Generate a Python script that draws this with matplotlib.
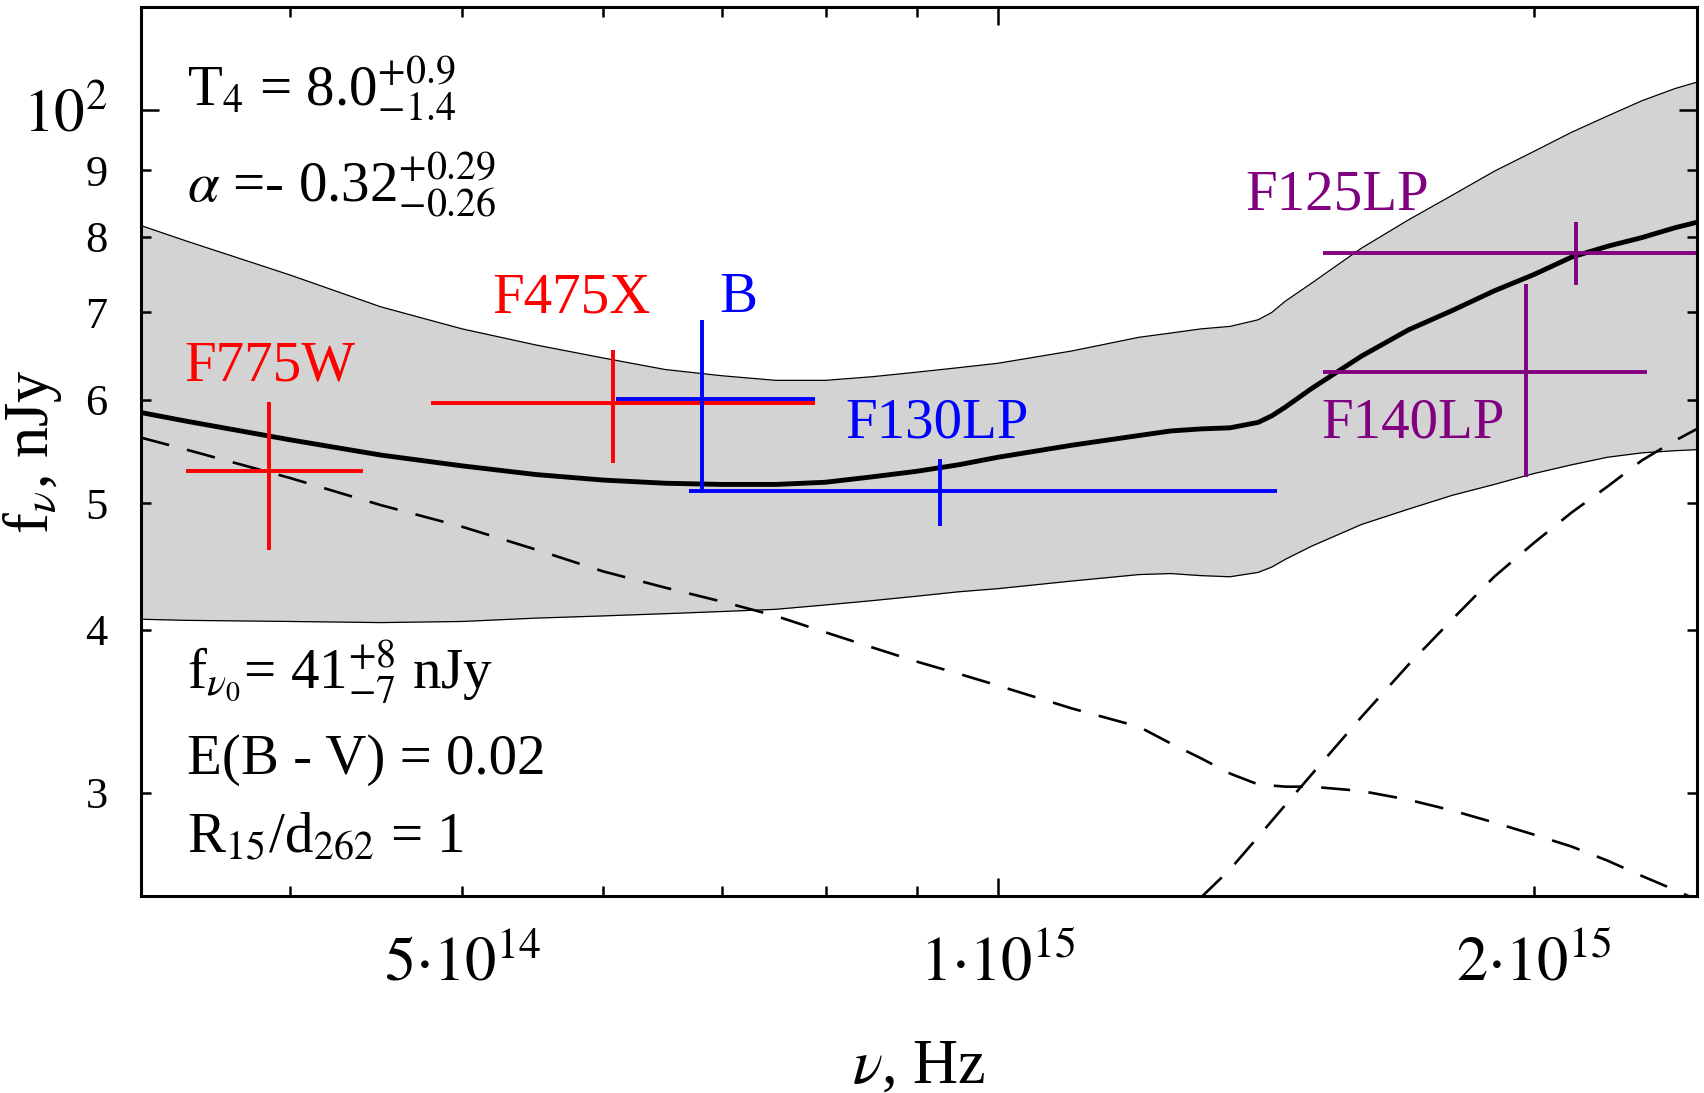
import numpy as np
import matplotlib
matplotlib.use('Agg')
import matplotlib.pyplot as plt
from matplotlib.ticker import FixedLocator, FuncFormatter

plt.rcParams['font.family'] = ['Liberation Serif', 'DejaVu Serif']
plt.rcParams['mathtext.fontset'] = 'stix'

# frequency grid of the model curves (Hz)
nu = np.array([3.3, 3.5, 4.0, 4.5, 5.0, 5.5, 6.0, 6.5, 7.0, 7.5, 8.0, 8.5, 9.0, 9.5,
               10, 11, 12, 12.5, 13, 13.5, 14, 14.25, 14.5, 15,
               16, 17, 18, 19, 20, 21, 22, 23, 24, 24.7]) * 1e14

# grey confidence band (nJy)
band_hi = [8.16, 7.94, 7.48, 7.07, 6.80, 6.61, 6.46, 6.33, 6.26, 6.21, 6.21, 6.25, 6.30, 6.35,
           6.40, 6.54, 6.70, 6.75, 6.80, 6.83, 6.91, 7.00, 7.14, 7.37,
           7.84, 8.24, 8.61, 8.98, 9.30, 9.62, 9.90, 10.17, 10.39, 10.51]
band_lo = [4.074, 4.066, 4.058, 4.050, 4.058, 4.082, 4.098, 4.114, 4.130, 4.146, 4.178, 4.210, 4.243, 4.276,
           4.300, 4.358, 4.408, 4.416, 4.400, 4.391, 4.425, 4.467, 4.528, 4.634,
           4.815, 4.947, 5.070, 5.168, 5.268, 5.350, 5.422, 5.464, 5.485, 5.495]

# best fit model
best = [5.867, 5.778, 5.592, 5.443, 5.340, 5.259, 5.208, 5.179, 5.168, 5.168, 5.188, 5.238, 5.289, 5.350,
        5.422, 5.538, 5.634, 5.679, 5.700, 5.711, 5.766, 5.833, 5.923, 6.120,
        6.480, 6.787, 7.025, 7.272, 7.484, 7.718, 7.867, 7.989, 8.128, 8.208]

# power law component (dashed)
power_law = [5.613, 5.495, 5.228, 4.983, 4.796, 4.607, 4.433, 4.308, 4.202, 4.098, 3.981, 3.876, 3.781, 3.701,
             3.624, 3.481, 3.370, 3.273, 3.188, 3.103, 3.044, 3.038, 3.032, 3.032,
             3.009, 2.963, 2.907, 2.846, 2.786, 2.728, 2.661, 2.590, 2.527, 2.483]

# thermal component (dashed, rising)
nu_thermal = np.array([13, 13.5, 14, 14.5, 15, 16, 17, 18, 19, 20, 21, 22, 23, 24, 24.7]) * 1e14
thermal = [2.493, 2.620, 2.775, 2.935, 3.097, 3.428, 3.758, 4.074, 4.391, 4.661, 4.918, 5.149, 5.392, 5.582, 5.700]

# photometric points
filtros = ['F775W', 'F475X', 'B', 'F130LP', 'F125LP', 'F140LP']
colores = ['#ff0000', '#ff0000', '#0000ff', '#0000ff', '#800080', '#800080']
nu_c = [3.896e14, 6.076e14, 6.818e14, 9.28e14, 2.113e15, 1.980e15]
nu_lo = [3.498e14, 4.802e14, 6.101e14, 6.704e14, 1.523e15, 1.523e15]
nu_hi = [4.399e14, 7.894e14, 7.894e14, 1.434e15, 2.466e15, 2.315e15]
flux = [5.293, 5.968, 6.014, 5.104, 7.778, 6.297]
flux_lo = [4.607, 5.370, 5.104, 4.800, 7.342, 5.238]
flux_hi = [5.980, 6.557, 6.905, 5.401, 8.208, 7.356]

# where the filter names sit
etiqueta_nu = [3.90e14, 5.76e14, 7.15e14, 9.24e14, 1.55e15, 1.71e15]
etiqueta_f = [6.21, 7.00, 7.00, 5.61, 8.40, 5.61]

xticks_minor = [4e14, 5e14, 6e14, 7e14, 8e14, 9e14, 2e15]
xtick_labels = {5e14: r'$5{\cdot}10^{14}$', 1e15: r'$1{\cdot}10^{15}$', 2e15: r'$2{\cdot}10^{15}$'}
yticks_minor = [3, 4, 5, 6, 7, 8, 9]

fig = plt.figure(figsize=(17.04, 10.93), dpi=100)
ax = fig.add_axes([141 / 1704, 197 / 1093, 1556 / 1704, 889 / 1093])
ax.set_xscale('log')
ax.set_yscale('log')

ax.fill_between(nu, band_lo, band_hi, color='#d3d3d3', lw=0, zorder=1)
ax.plot(nu, band_hi, color='k', lw=0.9, zorder=2)
ax.plot(nu, band_lo, color='k', lw=0.9, zorder=2)
ax.plot(nu, best, color='k', lw=3.5, zorder=4)
ax.plot(nu, power_law, color='k', lw=1.9, dashes=(11, 7), zorder=3)
ax.plot(nu_thermal, thermal, color='k', lw=1.9, dashes=(11, 7), zorder=3)

for i, nombre in enumerate(filtros):
    ax.errorbar([nu_c[i]], [flux[i]],
                xerr=[[nu_c[i] - nu_lo[i]], [nu_hi[i] - nu_c[i]]],
                yerr=[[flux[i] - flux_lo[i]], [flux_hi[i] - flux[i]]],
                fmt='none', ecolor=colores[i], elinewidth=2.8, capsize=0, zorder=5)
    ax.text(etiqueta_nu[i], etiqueta_f[i], nombre, color=colores[i], fontsize=41,
            ha='center', va='baseline', zorder=6)

# parametros del ajuste
ax.text(0.0296, 0.8898, r'T$_4$ = 8.0$^{+0.9}_{-1.4}$', transform=ax.transAxes, fontsize=41, va='baseline')
ax.text(0.0296, 0.7807, r'$\alpha$ =- 0.32$^{+0.29}_{-0.26}$', transform=ax.transAxes, fontsize=41, va='baseline')
ax.text(0.0296, 0.2328, r'f$_{\nu_0}$= 41$^{+8}_{-7}$ nJy', transform=ax.transAxes, fontsize=41, va='baseline')
ax.text(0.0296, 0.1372, 'E(B - V) = 0.02', transform=ax.transAxes, fontsize=41, va='baseline')
ax.text(0.0296, 0.0495, r'R$_{15}$/d$_{262}$ = 1', transform=ax.transAxes, fontsize=41, va='baseline')

ax.set_xlim(3.3e14, 2.47e15)
ax.set_ylim(2.5, 12.0)

ax.xaxis.set_major_locator(FixedLocator([1e15]))
ax.xaxis.set_minor_locator(FixedLocator(xticks_minor))
fmt_x = FuncFormatter(lambda v, pos: next((t for k, t in xtick_labels.items() if abs(v / k - 1) < 1e-6), ''))
ax.xaxis.set_major_formatter(fmt_x)
ax.xaxis.set_minor_formatter(fmt_x)

ax.yaxis.set_major_locator(FixedLocator([10]))
ax.yaxis.set_minor_locator(FixedLocator(yticks_minor))
ax.yaxis.set_major_formatter(FuncFormatter(lambda v, pos: r'$10^2$'))
ax.yaxis.set_minor_formatter(FuncFormatter(lambda v, pos: '%d' % round(v)))

ax.tick_params(which='both', direction='in', top=True, right=True, width=1.8)
ax.tick_params(which='major', length=13)
ax.tick_params(which='minor', length=7)
ax.tick_params(axis='x', which='both', labelsize=45, pad=29)
ax.tick_params(axis='y', which='major', labelsize=44, pad=24)
ax.tick_params(axis='y', which='minor', labelsize=32, pad=24)

for s in ax.spines.values():
    s.set_linewidth(2.2)

ax.set_xlabel(r'$\nu$, Hz', fontsize=45, va='top')
ax.xaxis.set_label_coords(0.5, -0.16)
ax.set_ylabel(r'f$_\nu$, nJy', fontsize=45)
ax.yaxis.set_label_coords(-0.0495, 0.5)

fig.savefig('out.png', dpi=100)
